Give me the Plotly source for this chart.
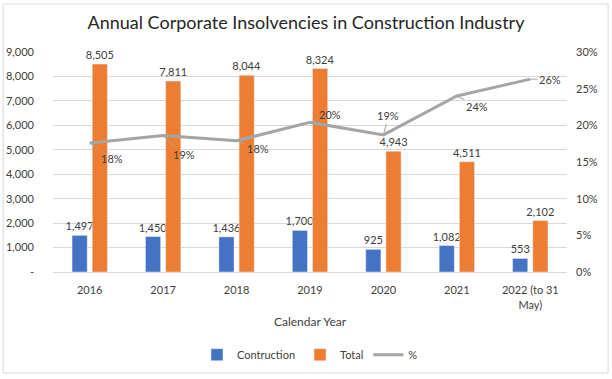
import plotly.graph_objects as go

years = ["2016", "2017", "2018", "2019", "2020", "2021", "2022 (to 31<br>May)"]
construction = [1497, 1450, 1436, 1700, 925, 1082, 553]
total = [8505, 7811, 8044, 8324, 4943, 4511, 2102]
pct = [17.6, 18.6, 17.9, 20.4, 18.7, 24.0, 26.3]
pct_labels = ["18%", "19%", "18%", "20%", "19%", "24%", "26%"]
left_ticks = [0, 1000, 2000, 3000, 4000, 5000, 6000, 7000, 8000, 9000]
left_ticktext = ["-", "1,000", "2,000", "3,000", "4,000", "5,000", "6,000", "7,000", "8,000", "9,000"]
right_ticks = [0, 5, 10, 15, 20, 25, 30]
right_ticktext = ["0%", "5%", "10%", "15%", "20%", "25%", "30%"]

# label offsets (px) for percentage labels, mimicking Excel placement
label_dx = [22, 21, 21, 20, 5, 20, 20]
label_dy = [16, 19, 8, -8, -19, 10, 0]

FONT = "Lato, Carlito, 'Liberation Sans', sans-serif"
TXT = "#404040"

fig = go.Figure()
fig.add_trace(go.Bar(
    x=years, y=construction, name="Contruction", marker_color="#4472C4",
    text=[f"{v:,}" for v in construction], textposition="outside",
    constraintext="none",
    textfont=dict(size=11, color=TXT, family=FONT), cliponaxis=False,
))
fig.add_trace(go.Bar(
    x=years, y=total, name="Total", marker_color="#ED7D31",
    text=[f"{v:,}" for v in total], textposition="outside",
    constraintext="none",
    textfont=dict(size=11, color=TXT, family=FONT), cliponaxis=False,
))
fig.add_trace(go.Scatter(
    x=years, y=pct, name="%", yaxis="y2", mode="lines",
    line=dict(color="#A5A5A5", width=3),
))

for i, (y, t, dx, dy) in enumerate(zip(pct, pct_labels, label_dx, label_dy)):
    fig.add_annotation(
        x=i, y=y, xref="x", yref="y2", text=t, showarrow=True,
        arrowhead=0, arrowwidth=1, arrowcolor="#A5A5A5",
        ax=dx, ay=dy, standoff=0, startstandoff=0,
        font=dict(size=11, color=TXT, family=FONT),
    )

fig.add_shape(type="rect", xref="paper", yref="paper",
              x0=-0.097, x1=1.08, y0=-0.459, y1=1.218,
              line=dict(color="#D9D9D9", width=1), layer="below")

fig.update_layout(
    width=612, height=379,
    margin=dict(l=53, r=45, t=52, b=107, autoexpand=False),
    paper_bgcolor="white", plot_bgcolor="white",
    font=dict(family=FONT, size=11, color=TXT),
    title=dict(text="Annual Corporate Insolvencies in Construction Industry",
               x=0.5, xanchor="center", y=0.94, yanchor="middle",
               font=dict(size=18, color="#262626", family=FONT)),
    barmode="group", bargap=0.45, bargroupgap=0.25,
    showlegend=True,
    legend=dict(orientation="h", x=0.5, xanchor="center", y=-0.31, yanchor="top",
                font=dict(size=11, color=TXT, family=FONT)),
    xaxis=dict(type="category", range=[-0.5, 6.5], autorange=False, automargin=False,
               title=dict(text="Calendar Year", font=dict(size=12, color=TXT), standoff=8),
               showline=True, linecolor="#D9D9D9", ticks="", ticklabelstandoff=8,
               tickfont=dict(size=11, color=TXT)),
    yaxis=dict(range=[0, 9000], tickvals=left_ticks, ticktext=left_ticktext, automargin=False,
               showgrid=True, gridcolor="#D9D9D9", zeroline=False,
               tickfont=dict(size=11, color=TXT), ticklabelstandoff=18),
    yaxis2=dict(range=[0, 30], tickvals=right_ticks, ticktext=right_ticktext, automargin=False,
                overlaying="y", side="right", showgrid=False, zeroline=False,
                tickfont=dict(size=11, color=TXT), ticklabelstandoff=8),
)

fig.write_html("out.html", config={"displayModeBar": False},
               post_script="document.body.style.margin='0px';")
